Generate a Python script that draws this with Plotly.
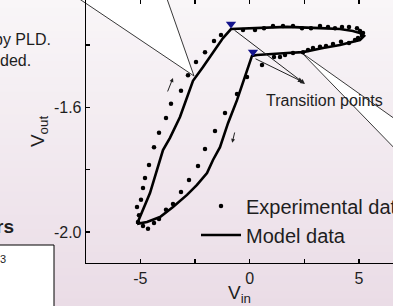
import plotly.graph_objects as go

# ---------------- data ----------------
exp_x = [-5.153, -5.062, -4.970, -4.879, -4.787, -4.605, -4.376, -4.147, -3.827, -3.599,
         -3.141, -2.821, -2.455, -2.044, -1.632, -1.312, -0.306, 0.242, 0.654, 1.065,
         1.523, 1.980, 2.391, 2.803, 3.214, 3.580, 3.900, 4.220, 4.540, 4.906,
         5.043, 5.180, 5.135, 4.952, 4.815, 4.540, 4.175, 3.809, 3.489, 3.214,
         2.894, 2.666, 2.437, 1.980, 1.614, 1.385, 1.111, 0.562, -0.123, -0.581,
         -1.129, -1.587, -2.044, -2.364, -2.776, -3.141, -3.507, -3.827, -4.147, -4.376,
         -4.650, -4.879, -5.107]
exp_y = [-1.920, -1.946, -1.897, -1.859, -1.827, -1.785, -1.728, -1.682, -1.634, -1.589,
         -1.547, -1.497, -1.455, -1.423, -1.387, -1.368, -1.352, -1.352, -1.346, -1.339,
         -1.339, -1.339, -1.346, -1.346, -1.339, -1.342, -1.346, -1.342, -1.342, -1.346,
         -1.355, -1.362, -1.371, -1.378, -1.384, -1.394, -1.390, -1.397, -1.403, -1.406,
         -1.410, -1.416, -1.423, -1.426, -1.432, -1.439, -1.439, -1.464, -1.503, -1.557,
         -1.618, -1.676, -1.734, -1.788, -1.833, -1.872, -1.910, -1.929, -1.958, -1.971,
         -1.990, -1.981, -1.968]

model_x = [-5.153, -4.559, -3.965, -3.645, -3.188, -2.822, -2.593, -2.135, -1.678, -1.221,
           -0.855, 0.014, 1.706, 3.214, 4.130, 4.720, 5.040, 5.230,
           5.040, 4.720, 4.130, 3.350, 2.437, 1.706, 0.928, 0.334, 0.105,
           -0.215, -0.581, -0.992, -1.358, -1.678, -1.952, -2.410, -2.867, -3.507,
           -4.101, -4.696, -5.153]
model_y = [-1.974, -1.875, -1.737, -1.698, -1.631, -1.560, -1.515, -1.471, -1.423, -1.378,
           -1.349, -1.346, -1.342, -1.346, -1.349, -1.355, -1.362, -1.371,
           -1.384, -1.390, -1.400, -1.410, -1.423, -1.426, -1.429, -1.432, -1.435,
           -1.503, -1.577, -1.651, -1.728, -1.769, -1.811, -1.849, -1.881, -1.920,
           -1.952, -1.968, -1.974]

tp_x = [-0.855, 0.150]
tp_y = [-1.333, -1.4226]

x_tick_vals = [-5, -2.5, 0, 2.5, 5]
x_tick_text = ["-5", "", "0", "", "5"]
y_tick_vals = [-2.0, -1.8, -1.6, -1.4]
y_tick_text = ["-2.0", "", "-1.6", ""]

# ---------------- layout helpers ----------------
W, H = 393, 306
L, R, T, B = 86, 0, 0, 43
PW, PH = W - L - R, H - T - B
FONT = "Arial, Liberation Sans, sans-serif"
INK = "#1e1e1e"


def pxx(x):
    return (x - L) / PW


def pxy(y):
    return (H - B - y) / PH


fig = go.Figure()

fig.add_trace(go.Scatter(x=exp_x, y=exp_y, mode="markers", name="Experimental data",
                         marker=dict(color="black", size=4.5), cliponaxis=False))
fig.add_trace(go.Scatter(x=model_x, y=model_y, mode="lines", name="Model data",
                         line=dict(color="black", width=2.6)))
fig.add_trace(go.Scatter(x=tp_x, y=tp_y, mode="markers", showlegend=False,
                         marker=dict(symbol="triangle-down", color="#14148c", size=9,
                                     line=dict(width=0))))
fig.add_trace(go.Scatter(x=[None], y=[None], xaxis="x2", showlegend=False))

shapes = []
# background gradient
N = 40
top = (249, 246, 248)
bot = (234, 220, 230)
for i in range(N):
    f = (i + 0.5) / N
    c = tuple(round(top[k] + (bot[k] - top[k]) * f) for k in range(3))
    y0 = i * H / N
    y1 = (i + 1) * H / N + 0.6
    shapes.append(dict(type="rect", xref="paper", yref="paper", layer="below",
                       x0=pxx(-2), x1=pxx(W + 2), y0=pxy(y1), y1=pxy(y0),
                       fillcolor="rgb(%d,%d,%d)" % c, line=dict(width=0)))
# callout wedges
shapes.append(dict(type="path", xref="paper", yref="paper", layer="below",
                   path="M %f %f L %f %f L %f %f Z" % (pxx(75), pxy(-4), pxx(166), pxy(-4),
                                                      pxx(194), pxy(76)),
                   fillcolor="white", line=dict(color="#222", width=0.9)))
shapes.append(dict(type="path", xref="paper", yref="paper", layer="below",
                   path="M %f %f L %f %f L %f %f Z" % (pxx(302), pxy(53), pxx(402), pxy(124),
                                                      pxx(402), pxy(156)),
                   fillcolor="white", line=dict(color="#222", width=0.9)))
# white box at lower left
shapes.append(dict(type="rect", xref="paper", yref="paper", layer="above",
                   x0=pxx(-3), x1=pxx(54), y0=pxy(312), y1=pxy(245),
                   fillcolor="white", line=dict(color="black", width=1)))

ann = []
ann.append(dict(xref="paper", yref="paper", x=pxx(53), y=pxy(40), xanchor="right", yanchor="middle",
                text="by PLD.", showarrow=False, font=dict(family=FONT, size=16, color=INK)))
ann.append(dict(xref="paper", yref="paper", x=pxx(33), y=pxy(61), xanchor="right", yanchor="middle",
                text="ded.", showarrow=False, font=dict(family=FONT, size=16, color=INK)))
ann.append(dict(xref="paper", yref="paper", x=pxx(16), y=pxy(226), xanchor="right", yanchor="middle",
                text="<b>rs</b>", showarrow=False, font=dict(family=FONT, size=19, color=INK)))
ann.append(dict(xref="paper", yref="paper", x=pxx(8), y=pxy(259), xanchor="right", yanchor="middle",
                text="3", showarrow=False, font=dict(family=FONT, size=11, color=INK)))
ann.append(dict(xref="paper", yref="paper", x=pxx(324.5), y=pxy(101), xanchor="center", yanchor="middle",
                text="Transition points", showarrow=False, font=dict(family=FONT, size=16, color=INK)))
# transition point arrows
for (hx, hy, tx, ty) in [(2.53, -1.525, -0.764, -1.349), (2.44, -1.519, 0.197, -1.442)]:
    ann.append(dict(x=hx, y=hy, ax=tx, ay=ty, xref="x", yref="y", axref="x", ayref="y",
                    text="", showarrow=True, arrowhead=2, arrowsize=1.0, arrowwidth=1,
                    arrowcolor="#222"))
# sweep direction arrows
for (hx, hy, tx, ty) in [(-3.507, -1.506, -3.781, -1.554), (-0.80, -1.714, -0.672, -1.676)]:
    ann.append(dict(x=hx, y=hy, ax=tx, ay=ty, xref="x", yref="y", axref="x", ayref="y",
                    text="", showarrow=True, arrowhead=2, arrowsize=0.8, arrowwidth=1,
                    arrowcolor="#222"))

xr = [(L - 249.7) / 21.87, (W - 249.7) / 21.87]
yr = [-1.6 - (H - B - 107.3) / 311.7, -1.6 + 107.3 / 311.7]

fig.update_layout(
    width=W, height=H,
    margin=dict(l=L, r=R, t=T, b=B, pad=0, autoexpand=False),
    paper_bgcolor="rgb(242,235,240)",
    plot_bgcolor="rgba(0,0,0,0)",
    font=dict(family=FONT, color=INK),
    shapes=shapes,
    annotations=ann,
    showlegend=True,
    hovermode=False,
    legend=dict(x=pxx(196), y=pxy(186.5), xanchor="left", yanchor="top",
                bgcolor="rgba(0,0,0,0)", font=dict(family=FONT, size=20, color=INK),
                itemwidth=40, tracegroupgap=0),
    xaxis=dict(range=xr, tickvals=x_tick_vals, ticktext=x_tick_text, ticks="inside",
               ticklen=4, tickwidth=1.2, tickcolor="black", showline=True, linecolor="black",
               linewidth=1.3, showgrid=False, zeroline=False, automargin=False,
               tickfont=dict(family=FONT, size=16, color=INK),
               title=dict(text="V<sub>in</sub>", font=dict(family=FONT, size=19, color=INK),
                          standoff=6)),
    xaxis2=dict(range=xr, overlaying="x", side="top", anchor="y", tickvals=x_tick_vals,
                ticks="inside", ticklen=4, tickwidth=1.2, tickcolor="black", automargin=False,
                showticklabels=False, showline=False, showgrid=False, zeroline=False),
    yaxis=dict(range=yr, tickvals=y_tick_vals, ticktext=y_tick_text, ticks="inside",
               ticklen=4, tickwidth=1.2, tickcolor="black", showline=True, linecolor="black",
               linewidth=1.3, showgrid=False, zeroline=False, automargin=False,
               tickfont=dict(family=FONT, size=16, color=INK),
               title=dict(text="V<sub>out</sub>", font=dict(family=FONT, size=19, color=INK),
                          standoff=4)),
)

fig.write_html("out.html", config={"displayModeBar": False, "staticPlot": True},
               post_script="document.body.style.margin='0';document.body.style.padding='0';"
                           "document.body.style.background='rgb(242,235,240)';")
